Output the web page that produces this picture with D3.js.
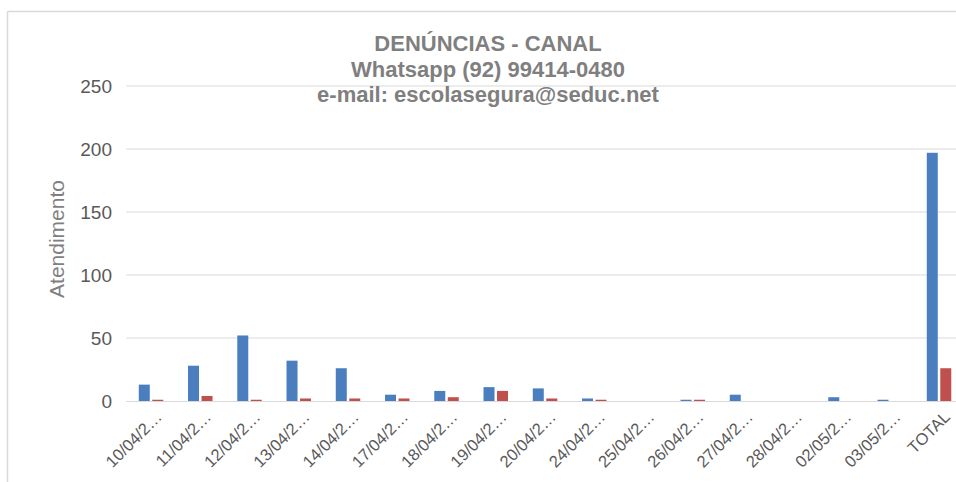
<!DOCTYPE html>
<html lang="pt">
<head>
<meta charset="UTF-8">
<title>Denúncias - Canal</title>
<script src="https://d3js.org/d3.v7.min.js"></script>
<style>
  body { margin: 0; background: #fff; }
  svg { display: block; font-family: "Liberation Sans", Arial, sans-serif; }
</style>
</head>
<body>
<svg id="chart"></svg>
<script>
// data
const categories = ["10/04/2…", "11/04/2…", "12/04/2…", "13/04/2…", "14/04/2…", "17/04/2…",
  "18/04/2…", "19/04/2…", "20/04/2…", "24/04/2…", "25/04/2…", "26/04/2…", "27/04/2…",
  "28/04/2…", "02/05/2…", "03/05/2…", "TOTAL"];
const serieAzul = [13, 28, 52, 32, 26, 5, 8, 11, 10, 2, 0, 1, 5, 0, 3, 1, 197];
const serieVermelha = [1, 4, 1, 2, 2, 2, 3, 8, 2, 1, 0, 1, 0, 0, 0, 0, 26];
const yTicks = [0, 50, 100, 150, 200, 250];
const titleLines = ["DENÚNCIAS - CANAL", "Whatsapp (92) 99414-0480", "e-mail: escolasegura@seduc.net"];

const width = 956, height = 482;
const left = 126.4, bandW = 49.25;
const svg = d3.select('#chart').attr('width', width).attr('height', height);

// frame of the chart area
svg.append('line').attr('x1', 7.5).attr('x2', width).attr('y1', 11.5).attr('y2', 11.5)
  .attr('stroke', '#d9d9d9').attr('stroke-width', 1.5);
svg.append('line').attr('x1', 7.5).attr('x2', 7.5).attr('y1', 11.5).attr('y2', height)
  .attr('stroke', '#d9d9d9').attr('stroke-width', 1.5);

var x = d3.scaleBand()
  .domain(categories)
  .range([left, left + bandW * categories.length])
var y = d3.scaleLinear()
  .domain([0, 250])
  .range([401, 86]);

// gridlines
svg.append('g').selectAll('line').data(yTicks.filter(d => d > 0)).enter().append('line')
  .attr('x1', left).attr('x2', width)
  .attr('y1', d => y(d)).attr('y2', d => y(d))
  .attr('stroke', '#d9d9d9').attr('stroke-width', 1);

// y axis (labels only)
var yAxis = d3.axisLeft(y).tickValues(yTicks).tickSize(0).tickPadding(0);
var gy = svg.append('g').attr('transform', `translate(112,0)`).call(yAxis);
gy.select('.domain').remove();
gy.selectAll('text').attr('font-size', 19).attr('fill', '#595959')
  .attr('font-family', '"Liberation Sans", Arial, sans-serif');

// bars
const barW = 11, gap = 2.5;
svg.append('g').selectAll('rect').data(serieAzul).enter().append('rect')
  .attr('x', (d, i) => x(categories[i]) + bandW / 2 - barW - gap / 2)
  .attr('y', d => y(d))
  .attr('width', barW)
  .attr('height', d => y(0) - y(d))
  .attr('fill', '#4a7ebf');
svg.append('g').selectAll('rect').data(serieVermelha).enter().append('rect')
  .attr('x', (d, i) => x(categories[i]) + bandW / 2 + gap / 2)
  .attr('y', d => y(d))
  .attr('width', barW)
  .attr('height', d => y(0) - y(d))
  .attr('fill', '#c0504d');

// x axis
var xAxis = d3.axisBottom(x).tickSize(0).tickPadding(0);
var gx = svg.append('g').attr('transform', `translate(0,${y(0)})`).call(xAxis);
gx.select('.domain').attr('stroke', '#d9d9d9').attr('d', `M${left},0.5H${width}`);
gx.selectAll('text')
  .attr('font-size', 16.5).attr('fill', '#595959')
  .attr('font-family', '"Liberation Sans", Arial, sans-serif')
  .attr('text-anchor', 'end')
  .attr('dy', null)
  .attr('y', 0)
  .attr('transform', `translate(12,17) rotate(-45)`);

// axis title
svg.append('text')
  .attr('transform', 'translate(64,239) rotate(-90)')
  .attr('text-anchor', 'middle')
  .attr('font-size', 21).attr('fill', '#7f7f7f')
  .text('Atendimento');

// chart title
svg.append('g').selectAll('text').data(titleLines).enter().append('text')
  .attr('x', 488)
  .attr('y', (d, i) => 51 + i * 25.5)
  .attr('text-anchor', 'middle')
  .attr('font-size', 22).attr('font-weight', 'bold').attr('fill', '#7f7f7f')
  .text(d => d);
</script>
</body>
</html>
